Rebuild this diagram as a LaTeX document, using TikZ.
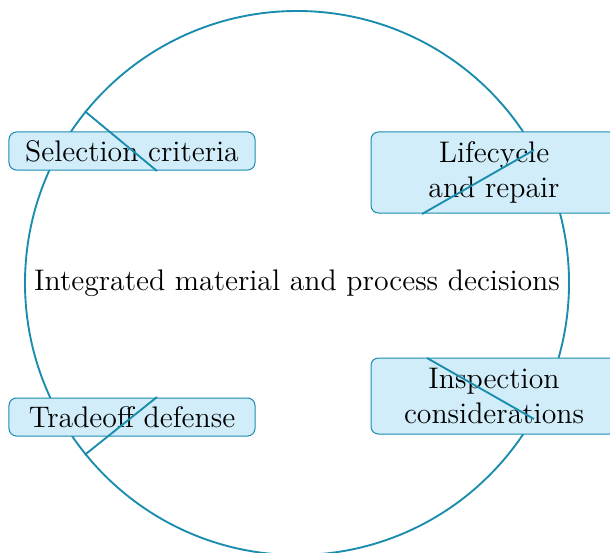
\documentclass[tikz,border=0pt]{standalone}
\usetikzlibrary{calc}
\definecolor{rim}{RGB}{26,140,174}
\definecolor{boxfill}{RGB}{209,237,249}
\begin{document}
\begin{tikzpicture}[x=0.4pt,y=-0.4pt,
  every node/.style={font=\fontsize{11.9pt}{14.2pt}\selectfont},
  hubstyle/.style={circle,draw=rim,line width=0.75pt,minimum size=217.6pt,inner sep=0pt},
  topic/.style={draw=rim,fill=boxfill,line width=0.4pt,rounded corners=3pt,
    minimum width=98.4pt,align=center,inner ysep=3pt},
  spoke/.style={draw=rim,line width=0.75pt}]
\useasboundingbox (0,0) rectangle (610,552);
\node[hubstyle] (hub) at (297,283) {Integrated material and process decisions};
\node[topic,minimum height=15.2pt] (sel) at (132,151) {Selection criteria};
\node[topic,minimum height=32.4pt] (life) at (494,172.5) {Lifecycle\\and repair};
\node[topic,minimum height=30.4pt] (insp) at (494,396) {Inspection\\considerations};
\node[topic,minimum height=15.2pt] (trade) at (132,417) {Tradeoff defense};
\coordinate (selend) at (157,171);
\coordinate (tradeend) at (157,397);
\coordinate (lifea) at (422,214);
\coordinate (lifeb) at (534,150);
\coordinate (inspa) at (427,358);
\coordinate (inspb) at (534,419);
\draw[spoke] (hub.141) -- (selend);
\draw[spoke] (hub.219) -- (tradeend);
\draw[spoke] (lifea) -- (lifeb);
\draw[spoke] (inspa) -- (inspb);
\end{tikzpicture}
\end{document}
